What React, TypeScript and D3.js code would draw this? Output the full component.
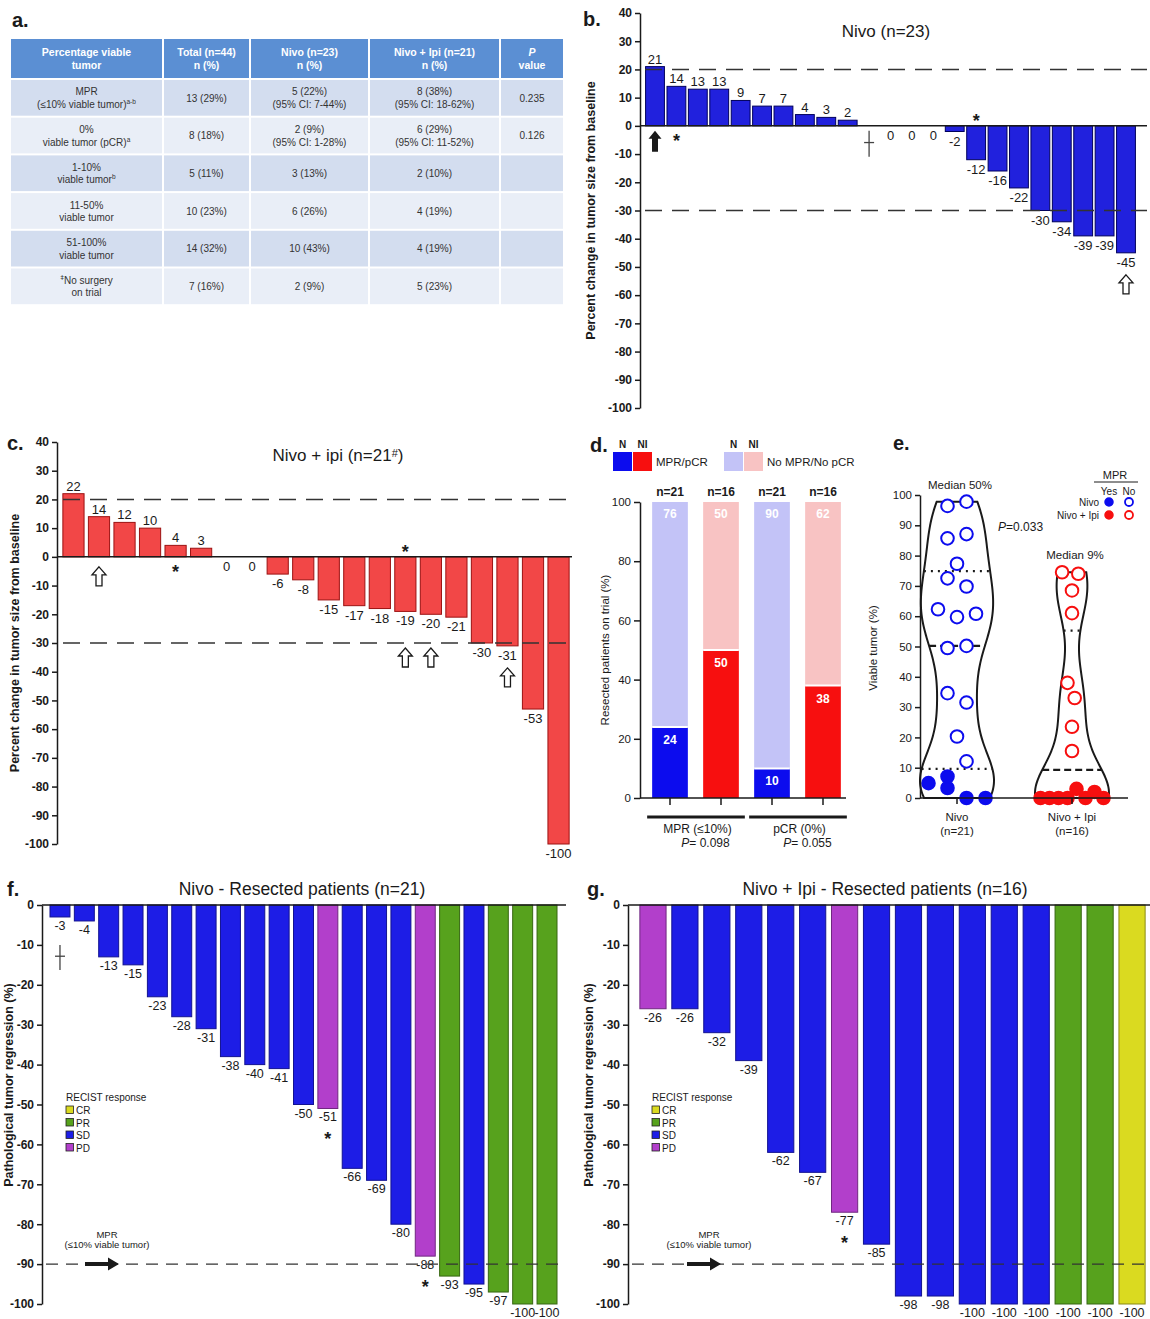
import { useEffect, useRef } from 'react';
import * as d3 from 'd3';

const FONT = "'Liberation Sans', Arial, Helvetica, sans-serif";
const INK = '#1a1a1a';

// ---- a. response table ----
// '|' = new line, {x} = superscript, *x* = italic
const tableHeader = ['Percentage viable|tumor', 'Total (n=44)|n (%)', 'Nivo (n=23)|n (%)', 'Nivo + Ipi (n=21)|n (%)', '*P*|value'];
const tableRows = [
    ['MPR|(≤10% viable tumor){a-b}', '13 (29%)', '5 (22%)|(95% CI: 7-44%)', '8 (38%)|(95% CI: 18-62%)', '0.235'],
    ['0%|viable tumor (pCR){a}', '8 (18%)', '2 (9%)|(95% CI: 1-28%)', '6 (29%)|(95% CI: 11-52%)', '0.126'],
    ['1-10%|viable tumor{b}', '5 (11%)', '3 (13%)', '2 (10%)', ''],
    ['11-50%|viable tumor', '10 (23%)', '6 (26%)', '4 (19%)', ''],
    ['51-100%|viable tumor', '14 (32%)', '10 (43%)', '4 (19%)', ''],
    ['{ǂ}No surgery|on trial', '7 (16%)', '2 (9%)', '5 (23%)', ''],
];

// ---- b. Nivo: best change in tumor size (null = no surgery / no scan) ----
const nivoChange = [21, 14, 13, 13, 9, 7, 7, 4, 3, 2, null, 0, 0, 0, -2, -12, -16, -22, -30, -34, -39, -39, -45];
const nivoMarks = [
    { i: 0, kind: 'solidArrow' },
    { i: 1, kind: 'starBelow' },
    { i: 10, kind: 'dagger' },
    { i: 15, kind: 'starAbove' },
    { i: 22, kind: 'arrowLabel' },
];

// ---- c. Nivo + ipi ----
const ipiChange = [22, 14, 12, 10, 4, 3, 0, 0, -6, -8, -15, -17, -18, -19, -20, -21, -30, -31, -53, -100];
const ipiMarks = [
    { i: 1, kind: 'arrowZero' },
    { i: 4, kind: 'starBelow' },
    { i: 13, kind: 'starAbove' },
    { i: 13, kind: 'arrowCut' },
    { i: 14, kind: 'arrowCut' },
    { i: 17, kind: 'arrowLabel' },
];

// ---- d. MPR / pCR rates ----
const dGroups = ['MPR (≤10%)', 'pCR (0%)'];
const dPValues = ['0.098', '0.055'];
const dBars = ['MPR-N', 'MPR-NI', 'pCR-N', 'pCR-NI'];
const dArm = ['N', 'NI', 'N', 'NI'];
const dBarN = [21, 16, 21, 16];
const dYes = [24, 50, 10, 38];
const dNo = [76, 50, 90, 62];

// ---- e. viable tumor violins ----
const eGroups = ['Nivo', 'Nivo + Ipi'];
const eGroupN = [21, 16];
const nivoViable = [96.4, 97.8, 85.7, 87.1, 77.3, 72.5, 69.8, 62.3, 59.7, 60.8, 49.5, 50.2, 34.6, 31.5, 20.3, 12.1, 4.9, 7.1, 3.3, 0, 0];
const nivoSlot = [-1, 1, -1, 1, 0, -1, 1, -2, 0, 2, -1, 1, -1, 1, 0, 1, -3, -1, -1, 1, 3];
const ipiViable = [74.5, 74, 68.5, 61, 38, 33, 23.5, 15.5, 0, 0, 0, 0, 3, 0, 2, 0];
const ipiSlot = [-1.1, 0.7, 0, 0, -0.5, 0.3, 0, 0, -3.5, -2.5, -1.5, -0.5, 0.5, 1.5, 2.5, 3.5];
const ePValue = '0.033';

// ---- f / g. pathological regression ----
const fRegression = [-3, -4, -13, -15, -23, -28, -31, -38, -40, -41, -50, -51, -66, -69, -80, -88, -93, -95, -97, -100, -100];
const fRecist = ['SD', 'SD', 'SD', 'SD', 'SD', 'SD', 'SD', 'SD', 'SD', 'SD', 'SD', 'PD', 'SD', 'SD', 'SD', 'PD', 'PR', 'SD', 'PR', 'PR', 'PR'];
const fMarks = [{ i: 0, kind: 'dagger' }, { i: 11, kind: 'star' }, { i: 15, kind: 'star' }];
const gRegression = [-26, -26, -32, -39, -62, -67, -77, -85, -98, -98, -100, -100, -100, -100, -100, -100];
const gRecist = ['PD', 'SD', 'SD', 'SD', 'SD', 'SD', 'PD', 'SD', 'SD', 'SD', 'SD', 'SD', 'SD', 'PR', 'PR', 'CR'];
const gMarks = [{ i: 6, kind: 'star' }];
const recistOrder = ['CR', 'PR', 'SD', 'PD'];

const COLORS: Record<string, string> = {
    nivo: '#2121dd',
    nivoEdge: '#00005c',
    ipi: '#f24747',
    ipiEdge: '#9c1212',
    N: '#0c0cee',
    NI: '#f70f0f',
    Nlight: '#c3c3f7',
    NIlight: '#f8c3c3',
    SD: '#1d1de6',
    PD: '#b23fcb',
    PR: '#57a21d',
    CR: '#dada20',
    header: '#5b8fd3',
    rowDark: '#d3ddef',
    rowLight: '#e9eef7',
};

const plain = (d: any) => String(d);

function rich(text: any, str: string) {
    const parts = str.split(/(\{[^}]*\}|\*[^*]*\*)/).filter(s => s.length);
    let shifted = false;
    parts.forEach(p => {
        const t = text.append('tspan');
        if (p[0] === '{') {
            t.attr('dy', -4).attr('font-size', '0.65em').text(p.slice(1, -1));
            shifted = true;
        } else {
            if (shifted) { t.attr('dy', 4); shifted = false; }
            if (p[0] === '*') t.attr('font-style', 'italic').text(p.slice(1, -1));
            else t.text(p);
        }
    });
}

function letter(svg: any, s: string, x: number, y: number) {
    svg.append('text').attr('x', x).attr('y', y).attr('font-size', 20).attr('font-weight', 'bold').attr('fill', INK).text(s);
}

function hollowArrow(g: any, x: number, tip: number) {
    g.append('path')
        .attr('d', `M${x},${tip} l7,8 h-4 v11 h-6 v-11 h-4 z`)
        .attr('fill', '#fff').attr('stroke', INK).attr('stroke-width', 1.3);
}

function solidArrow(g: any, x: number, tip: number) {
    g.append('path')
        .attr('d', `M${x},${tip} l6.5,8 h-3.5 v13 h-6 v-13 h-3.5 z`)
        .attr('fill', INK);
}

function star(g: any, x: number, base: number) {
    g.append('text').attr('x', x).attr('y', base).attr('text-anchor', 'middle')
        .attr('font-size', 18).attr('font-weight', 'bold').attr('fill', INK).text('*');
}

function dagger(g: any, x: number, y1: number, y2: number) {
    g.append('line').attr('x1', x).attr('x2', x).attr('y1', y1).attr('y2', y2).attr('stroke', '#444').attr('stroke-width', 1.3);
    const m = y1 + (y2 - y1) * 0.45;
    g.append('line').attr('x1', x - 5).attr('x2', x + 5).attr('y1', m).attr('y2', m).attr('stroke', '#444').attr('stroke-width', 1.3);
}

function styleAxis(ax: any, bold: boolean, size: number) {
    ax.selectAll('path').attr('stroke', INK).attr('stroke-width', 1.5);
    ax.selectAll('line').attr('stroke', INK).attr('stroke-width', 1.5);
    ax.selectAll('text').attr('fill', INK).attr('font-size', size)
        .attr('font-weight', bold ? 'bold' : 'normal').attr('font-family', FONT);
}

function yLabel(g: any, s: string, x: number, y: number, bold: boolean, size: number) {
    g.append('text').attr('transform', `translate(${x},${y}) rotate(-90)`)
        .attr('text-anchor', 'middle').attr('dominant-baseline', 'middle')
        .attr('font-size', size).attr('font-weight', bold ? 'bold' : 'normal').attr('fill', INK).text(s);
}

function drawTable(svg: any) {
    const g = svg.append('g');
    const colEdges = [10, 163, 250, 369, 500, 564];
    const rowsAll = [tableHeader, ...tableRows];
    const yRow = d3.scaleLinear().domain([0, 1]).range([79, 116.7]);
    rowsAll.forEach((row, r) => {
        const y0 = r === 0 ? 38 : yRow(r - 1);
        const h = r === 0 ? 41 : yRow(1) - yRow(0);
        const fill = r === 0 ? COLORS.header : (r % 2 === 1 ? COLORS.rowDark : COLORS.rowLight);
        row.forEach((cell, c) => {
            const x0 = colEdges[c], x1 = colEdges[c + 1];
            g.append('rect').attr('x', x0 + 1).attr('y', y0 + 1).attr('width', x1 - x0 - 2).attr('height', h - 2).attr('fill', fill);
            const lines = cell.split('|');
            lines.forEach((ln, k) => {
                const t = g.append('text')
                    .attr('x', (x0 + x1) / 2)
                    .attr('y', y0 + h / 2 + (k - (lines.length - 1) / 2) * 12.5 + 3.8)
                    .attr('text-anchor', 'middle')
                    .attr('font-size', r === 0 ? 10.5 : 10)
                    .attr('font-weight', r === 0 ? 'bold' : 'normal')
                    .attr('fill', r === 0 ? '#fff' : '#333');
                rich(t, ln);
            });
        });
    });
}

function drawChange(svg: any, values: (number | null)[], marks: any[], L: any) {
    const g = svg.append('g');
    const y = d3.scaleLinear().domain([-100, 40]).range([L.bottom, L.top]);
    const x = d3.scaleBand<number>().domain(d3.range(values.length)).range([L.x0, L.x1])
        .paddingInner(L.pad).paddingOuter(L.pad / 2);
    const y0 = y(0);
    const cx = (i: number) => (x(i) as number) + x.bandwidth() / 2;
    const data = values.map((v, i) => ({ v, i }));

    g.selectAll('rect.bar').data(data.filter(d => d.v !== null && d.v !== 0)).join('rect')
        .attr('x', (d: any) => x(d.i)).attr('width', x.bandwidth())
        .attr('y', (d: any) => y(Math.max(0, d.v))).attr('height', (d: any) => Math.abs(y(d.v) - y0))
        .attr('fill', L.color).attr('stroke', L.edge).attr('stroke-width', 1);

    [20, -30].forEach(v => {
        g.append('line').attr('x1', L.dashX0).attr('x2', L.right).attr('y1', y(v)).attr('y2', y(v))
            .attr('stroke', '#333').attr('stroke-width', 1.5).attr('stroke-dasharray', '17,10');
    });

    g.selectAll('text.val').data(data.filter(d => d.v !== null)).join('text')
        .attr('x', (d: any) => cx(d.i))
        .attr('y', (d: any) => d.v > 0 ? y(d.v) - 3 : d.v < 0 ? y(d.v) + 14 : y0 + 14)
        .attr('text-anchor', 'middle').attr('font-size', 13).attr('fill', INK)
        .text((d: any) => d.v);

    g.append('line').attr('x1', L.axisX).attr('x2', L.right).attr('y1', y0).attr('y2', y0).attr('stroke', INK).attr('stroke-width', 1.5);

    const ax = g.append('g').attr('transform', `translate(${L.axisX},0)`)
        .call(d3.axisLeft(y).tickValues(d3.range(-100, 41, 10)).tickFormat(plain).tickSize(5).tickSizeOuter(0).tickPadding(3));
    styleAxis(ax, true, 12);

    marks.forEach(m => {
        const c = cx(m.i);
        const v = values[m.i] ?? 0;
        if (m.kind === 'solidArrow') solidArrow(g, c, y0 + 5);
        if (m.kind === 'starBelow') star(g, c, y0 + 21);
        if (m.kind === 'starAbove') star(g, c, y0 + 1);
        if (m.kind === 'dagger') dagger(g, c, y0 + 5, y0 + 31);
        if (m.kind === 'arrowZero') hollowArrow(g, c, y0 + 10);
        if (m.kind === 'arrowCut') hollowArrow(g, c, y(-30) + 5);
        if (m.kind === 'arrowLabel') hollowArrow(g, c, y(v) + 22);
    });

    const t = g.append('text').attr('x', L.titleX).attr('y', L.titleY).attr('text-anchor', 'middle')
        .attr('font-size', 17).attr('fill', INK);
    rich(t, L.title);
    yLabel(g, 'Percent change in tumor size from baseline', L.ylabelX, (L.top + L.bottom) / 2, true, 12.5);
}

function drawRates(svg: any) {
    const g = svg.append('g');
    const y = d3.scaleLinear().domain([0, 100]).range([798, 502]);
    const x = d3.scaleBand<string>().domain(dBars).range([644.5, 848.5]).paddingInner(0.3).paddingOuter(0.15);
    const bw = x.bandwidth();
    const cx = (k: string) => (x(k) as number) + bw / 2;

    dBars.forEach((k, i) => {
        const arm = dArm[i];
        const base = arm === 'N' ? COLORS.N : COLORS.NI;
        const light = arm === 'N' ? COLORS.Nlight : COLORS.NIlight;
        g.append('rect').attr('x', x(k)).attr('width', bw).attr('y', y(dYes[i] + dNo[i])).attr('height', y(dYes[i]) - y(dYes[i] + dNo[i]))
            .attr('fill', light);
        g.append('rect').attr('x', x(k)).attr('width', bw).attr('y', y(dYes[i])).attr('height', y(0) - y(dYes[i]))
            .attr('fill', base);
        g.append('line').attr('x1', x(k)).attr('x2', (x(k) as number) + bw).attr('y1', y(dYes[i])).attr('y2', y(dYes[i]))
            .attr('stroke', '#fff').attr('stroke-width', 2);
        g.append('text').attr('x', cx(k)).attr('y', y(dYes[i] + dNo[i]) + 16).attr('text-anchor', 'middle')
            .attr('font-size', 12).attr('font-weight', 'bold').attr('fill', '#fff').text(dNo[i]);
        g.append('text').attr('x', cx(k)).attr('y', y(dYes[i]) + 17).attr('text-anchor', 'middle')
            .attr('font-size', 12).attr('font-weight', 'bold').attr('fill', '#fff').text(dYes[i]);
        g.append('text').attr('x', cx(k)).attr('y', y(100) - 6).attr('text-anchor', 'middle')
            .attr('font-size', 12).attr('font-weight', 'bold').attr('fill', INK).text(`n=${dBarN[i]}`);
        g.append('line').attr('x1', cx(k)).attr('x2', cx(k)).attr('y1', y(0)).attr('y2', y(0) + 7)
            .attr('stroke', INK).attr('stroke-width', 1.5);
    });

    g.append('line').attr('x1', 640).attr('x2', 846).attr('y1', y(0)).attr('y2', y(0)).attr('stroke', INK).attr('stroke-width', 1.5);
    const ax = g.append('g').attr('transform', 'translate(640,0)')
        .call(d3.axisLeft(y).tickValues(d3.range(0, 101, 20)).tickFormat(plain).tickSize(6).tickSizeOuter(0));
    styleAxis(ax, false, 11.5);

    dGroups.forEach((grp, j) => {
        const a = x(dBars[j * 2]) as number;
        const b = (x(dBars[j * 2 + 1]) as number) + bw;
        const mid = (a + b) / 2;
        g.append('line').attr('x1', a - 5).attr('x2', b + 6).attr('y1', 817).attr('y2', 817).attr('stroke', INK).attr('stroke-width', 3);
        g.append('text').attr('x', mid + 2).attr('y', 833).attr('text-anchor', 'middle').attr('font-size', 12).attr('fill', INK).text(grp);
        const p = g.append('text').attr('x', mid + 10).attr('y', 847).attr('text-anchor', 'middle').attr('font-size', 12).attr('fill', INK);
        rich(p, `*P*= ${dPValues[j]}`);
    });

    // legend
    const sw = [
        { x: 613, c: COLORS.N, lab: 'N' }, { x: 633, c: COLORS.NI, lab: 'NI' },
        { x: 724, c: COLORS.Nlight, lab: 'N' }, { x: 744, c: COLORS.NIlight, lab: 'NI' },
    ];
    sw.forEach(s => {
        g.append('rect').attr('x', s.x).attr('y', 452).attr('width', 19).attr('height', 19).attr('fill', s.c);
        g.append('text').attr('x', s.x + 9.5).attr('y', 448).attr('text-anchor', 'middle').attr('font-size', 10)
            .attr('font-weight', 'bold').attr('fill', INK).text(s.lab);
    });
    g.append('text').attr('x', 656).attr('y', 466).attr('font-size', 11.5).attr('fill', INK).text('MPR/pCR');
    g.append('text').attr('x', 767).attr('y', 466).attr('font-size', 11.5).attr('fill', INK).text('No MPR/No pCR');

    yLabel(g, 'Resected patients on trial (%)', 606, 650, false, 11.5);
}

function gpQuantile(sorted: number[], p: number) {
    const pos = (sorted.length + 1) * p;
    const lo = Math.floor(pos);
    if (lo < 1) return sorted[0];
    if (lo >= sorted.length) return sorted[sorted.length - 1];
    return sorted[lo - 1] + (pos - lo) * (sorted[lo] - sorted[lo - 1]);
}

function drawViolins(svg: any) {
    const g = svg.append('g');
    const y = d3.scaleLinear().domain([0, 100]).range([798, 495]);
    const x = d3.scalePoint<string>().domain(eGroups).range([957, 1072]);
    const groups = [
        { vals: nivoViable, slots: nivoSlot, color: COLORS.N, unit: 9.5 },
        { vals: ipiViable, slots: ipiSlot, color: COLORS.NI, unit: 9 },
    ];
    const bwidth = 10;

    groups.forEach((gr, k) => {
        const c = x(eGroups[k]) as number;
        const lo = d3.min(gr.vals) as number;
        const hi = d3.max(gr.vals) as number;
        const dens = (v: number) => d3.sum(gr.vals, s => Math.exp(-0.5 * ((v - s) / bwidth) ** 2));
        const grid = d3.range(lo, hi, 0.5).concat([hi]);
        const pts = grid.map(v => [v, dens(v)] as [number, number]);
        const w = d3.scaleLinear().domain([0, d3.max(pts, p => p[1]) as number]).range([0, 37]);
        const area = d3.area<[number, number]>()
            .x0(p => c - w(p[1])).x1(p => c + w(p[1])).y(p => y(p[0])).curve(d3.curveBasis);
        g.append('path').attr('d', area(pts)).attr('fill', 'none').attr('stroke', INK).attr('stroke-width', 2);

        const sorted = [...gr.vals].sort((a, b) => a - b);
        const med = gpQuantile(sorted, 0.5);
        [0.25, 0.5, 0.75].forEach(p => {
            const q = gpQuantile(sorted, p);
            const hw = w(dens(q));
            g.append('line').attr('x1', c - hw).attr('x2', c + hw).attr('y1', y(q)).attr('y2', y(q))
                .attr('stroke', INK).attr('stroke-width', 2.2)
                .attr('stroke-dasharray', p === 0.5 ? '7,4' : '2,5');
        });

        g.selectAll(null).data(gr.vals.map((v, i) => ({ v, s: gr.slots[i] }))).join('circle')
            .attr('cx', (d: any) => c + d.s * gr.unit).attr('cy', (d: any) => y(d.v)).attr('r', 6.3)
            .attr('fill', (d: any) => d.v <= 10 ? gr.color : '#fff')
            .attr('stroke', gr.color).attr('stroke-width', 2);

        g.append('text').attr('x', c + 3).attr('y', y(hi) - 13).attr('text-anchor', 'middle').attr('font-size', 11.5)
            .attr('fill', INK).text(`Median ${Math.round(med)}%`);
        g.append('line').attr('x1', c).attr('x2', c).attr('y1', y(0)).attr('y2', y(0) + 6).attr('stroke', INK).attr('stroke-width', 1.5);
        g.append('text').attr('x', c).attr('y', 821).attr('text-anchor', 'middle').attr('font-size', 11.5).attr('fill', INK).text(eGroups[k]);
        g.append('text').attr('x', c).attr('y', 835).attr('text-anchor', 'middle').attr('font-size', 11.5).attr('fill', INK).text(`(n=${eGroupN[k]})`);
    });

    g.append('line').attr('x1', 920).attr('x2', 1128).attr('y1', y(0)).attr('y2', y(0)).attr('stroke', INK).attr('stroke-width', 1.5);
    const ax = g.append('g').attr('transform', 'translate(920,0)')
        .call(d3.axisLeft(y).tickValues(d3.range(0, 101, 10)).tickFormat(plain).tickSize(5).tickSizeOuter(0));
    styleAxis(ax, false, 11.5);

    const pt = g.append('text').attr('x', 998).attr('y', 531).attr('font-size', 12).attr('fill', INK);
    rich(pt, `*P*=${ePValue}`);

    // legend
    g.append('text').attr('x', 1115).attr('y', 479).attr('text-anchor', 'middle').attr('font-size', 11).attr('fill', INK).text('MPR');
    g.append('line').attr('x1', 1094).attr('x2', 1138).attr('y1', 482).attr('y2', 482).attr('stroke', INK).attr('stroke-width', 1);
    g.append('text').attr('x', 1109).attr('y', 495).attr('text-anchor', 'middle').attr('font-size', 10).attr('fill', INK).text('Yes');
    g.append('text').attr('x', 1129).attr('y', 495).attr('text-anchor', 'middle').attr('font-size', 10).attr('fill', INK).text('No');
    eGroups.forEach((name, k) => {
        const yy = 502 + k * 13;
        const col = k === 0 ? COLORS.N : COLORS.NI;
        g.append('text').attr('x', 1099).attr('y', yy + 3.5).attr('text-anchor', 'end').attr('font-size', 10).attr('fill', INK).text(name);
        g.append('circle').attr('cx', 1109).attr('cy', yy).attr('r', 4).attr('fill', col).attr('stroke', col).attr('stroke-width', 1.5);
        g.append('circle').attr('cx', 1129).attr('cy', yy).attr('r', 4).attr('fill', '#fff').attr('stroke', col).attr('stroke-width', 1.8);
    });

    yLabel(g, 'Viable tumor (%)', 874, 648, false, 11.5);
}

function drawRegression(svg: any, values: number[], recist: string[], marks: any[], L: any) {
    const g = svg.append('g');
    const y = d3.scaleLinear().domain([-100, 0]).range([1304, 905]);
    const x = d3.scaleBand<number>().domain(d3.range(values.length)).range([L.x0, L.x1])
        .paddingInner(L.pad).paddingOuter(L.pad / 2);
    const cx = (i: number) => (x(i) as number) + x.bandwidth() / 2;
    const data = values.map((v, i) => ({ v, i, r: recist[i] }));

    g.selectAll('rect.bar').data(data).join('rect')
        .attr('x', (d: any) => x(d.i)).attr('width', x.bandwidth())
        .attr('y', y(0)).attr('height', (d: any) => y(d.v) - y(0))
        .attr('fill', (d: any) => COLORS[d.r])
        .attr('stroke', (d: any) => (d3.color(COLORS[d.r]) as any).darker(1.3).toString()).attr('stroke-width', 1);

    g.selectAll('text.val').data(data).join('text')
        .attr('x', (d: any) => cx(d.i)).attr('y', (d: any) => y(d.v) + 13)
        .attr('text-anchor', 'middle').attr('font-size', 12.5).attr('fill', INK).text((d: any) => d.v);

    g.append('line').attr('x1', L.axisX + 4).attr('x2', L.right).attr('y1', y(-90)).attr('y2', y(-90))
        .attr('stroke', '#333').attr('stroke-width', 1.4).attr('stroke-dasharray', '12,8');

    const ax1 = L.arrowX, yy = y(-90);
    g.append('path').attr('d', `M${ax1 + 34},${yy} l-11,-6.5 v4.5 h-23 v4 h23 v4.5 z`).attr('fill', INK);
    g.append('text').attr('x', ax1 + 22).attr('y', yy - 26).attr('text-anchor', 'middle').attr('font-size', 9.5).attr('fill', INK).text('MPR');
    g.append('text').attr('x', ax1 + 22).attr('y', yy - 16).attr('text-anchor', 'middle').attr('font-size', 9.5).attr('fill', INK).text('(≤10% viable tumor)');

    marks.forEach(m => {
        const c = cx(m.i);
        const b = y(values[m.i]);
        if (m.kind === 'star') star(g, c, b + 37);
        if (m.kind === 'dagger') dagger(g, c, b + 28, b + 53);
    });

    // RECIST legend
    const lx = L.axisX + 24;
    g.append('text').attr('x', lx).attr('y', 1101).attr('font-size', 10).attr('fill', INK).text('RECIST response');
    recistOrder.forEach((r, k) => {
        const ly = 1106 + k * 12.5;
        g.append('rect').attr('x', lx).attr('y', ly).attr('width', 7.5).attr('height', 7.5)
            .attr('fill', COLORS[r]).attr('stroke', '#222').attr('stroke-width', 0.8);
        g.append('text').attr('x', lx + 10).attr('y', ly + 8).attr('font-size', 10).attr('fill', INK).text(r);
    });

    g.append('line').attr('x1', L.axisX).attr('x2', L.right).attr('y1', y(0)).attr('y2', y(0)).attr('stroke', INK).attr('stroke-width', 1.5);
    const ax = g.append('g').attr('transform', `translate(${L.axisX},0)`)
        .call(d3.axisLeft(y).tickValues(d3.range(-100, 1, 10)).tickFormat(plain).tickSize(5).tickSizeOuter(0).tickPadding(3));
    styleAxis(ax, true, 12);

    g.append('text').attr('x', L.titleX).attr('y', 895).attr('text-anchor', 'middle').attr('font-size', 17.5).attr('fill', INK).text(L.title);
    yLabel(g, 'Pathological tumor regression (%)', L.ylabelX, 1085, true, 12.5);
}

export default function App() {
    const svgRef = useRef<SVGSVGElement>(null);

    useEffect(() => {
        if (!svgRef.current) return;
        const svg = d3.select(svgRef.current);
        svg.selectAll('*').remove();

        drawTable(svg);
        drawChange(svg, nivoChange, nivoMarks, {
            top: 13, bottom: 408, axisX: 640, x0: 644.3, x1: 1136.7, pad: 0.12, right: 1147, dashX0: 645,
            color: COLORS.nivo, edge: COLORS.nivoEdge, title: 'Nivo (n=23)', titleX: 886, titleY: 37, ylabelX: 592,
        });
        drawChange(svg, ipiChange, ipiMarks, {
            top: 442, bottom: 844, axisX: 57, x0: 60.7, x1: 571.3, pad: 0.17, right: 572, dashX0: 63,
            color: COLORS.ipi, edge: COLORS.ipiEdge, title: 'Nivo + ipi (n=21{#})', titleX: 338, titleY: 461, ylabelX: 16,
        });
        drawRates(svg);
        drawViolins(svg);
        drawRegression(svg, fRegression, fRecist, fMarks, {
            axisX: 42, x0: 47.8, x1: 559.2, pad: 0.18, right: 566, arrowX: 85,
            title: 'Nivo - Resected patients (n=21)', titleX: 302, ylabelX: 10,
        });
        drawRegression(svg, gRegression, gRecist, gMarks, {
            axisX: 628, x0: 637, x1: 1148, pad: 0.18, right: 1150, arrowX: 687,
            title: 'Nivo + Ipi - Resected patients (n=16)', titleX: 885, ylabelX: 590,
        });

        letter(svg, 'a.', 12, 27);
        letter(svg, 'b.', 583, 26);
        letter(svg, 'c.', 7, 450);
        letter(svg, 'd.', 590, 452);
        letter(svg, 'e.', 893, 450);
        letter(svg, 'f.', 7, 896);
        letter(svg, 'g.', 587, 896);
    }, []);

    return (
        <svg ref={svgRef} width={1150} height={1319}
            style={{ position: 'absolute', left: 0, top: 0, background: '#fff', fontFamily: FONT }} />
    );
}
